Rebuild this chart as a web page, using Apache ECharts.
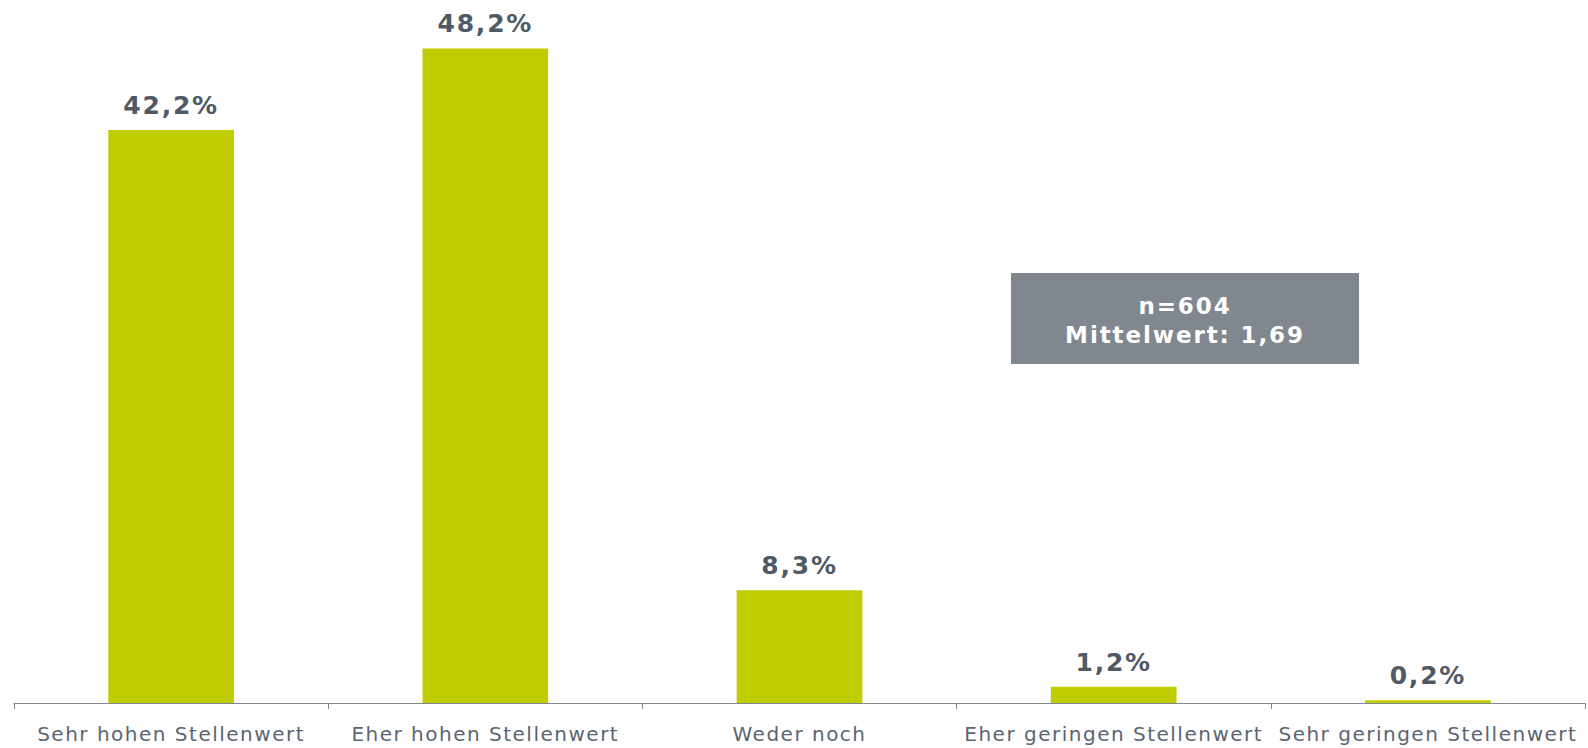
<!DOCTYPE html>
<html><head><meta charset="utf-8">
<script src="https://cdn.jsdelivr.net/npm/echarts@6/dist/echarts.min.js"></script>
<style>
html,body{margin:0;padding:0;background:#fff}
#c{width:1588px;height:748px}
#c text[style*="20px"]{letter-spacing:1.5px}
#c text[style*="25px"]{letter-spacing:1.8px}
#c text[style*="23px"]{letter-spacing:1.9px}
</style>
</head><body><div id="c"></div>
<script>
const categories = ['Sehr hohen Stellenwert','Eher hohen Stellenwert','Weder noch','Eher geringen Stellenwert','Sehr geringen Stellenwert'];
const values = [42.2, 48.2, 8.3, 1.2, 0.2];
const noteLines = ['n=604', 'Mittelwert: 1,69'];
const font = 'DejaVu Sans';
const chart = echarts.init(document.getElementById('c'), null, {renderer: 'svg'});
chart.setOption({
  animation: false,
  grid: {left: 14, right: 3, top: 24, bottom: 45, containLabel: false},
  xAxis: {
    type: 'category', data: categories,
    axisLine: {lineStyle: {color: '#7f8790', width: 1}},
    axisTick: {show: true, length: 6, lineStyle: {color: '#7f8790'}},
    axisLabel: {color: '#5a6571', fontFamily: font, fontSize: 20, margin: 21, interval: 0}
  },
  yAxis: {type: 'value', min: 0, max: 50, show: false, splitLine: {show: false}},
  series: [{
    type: 'bar', data: values, barWidth: '40%',
    itemStyle: {color: '#bfcd00'},
    label: {show: true, position: 'top', distance: 12, color: '#4f5a66', fontFamily: font, fontWeight: 'bold', fontSize: 25,
      formatter: p => p.value.toFixed(1).replace('.', ',') + '%'}
  }],
  graphic: [{
    type: 'group', left: 1011, top: 273,
    children: [
      {type: 'rect', shape: {x: 0, y: 0, width: 348, height: 91}, style: {fill: '#80878f'}},
      {type: 'text', x: 174, y: 47, style: {text: noteLines.join('\n'), fill: '#fff', font: 'bold 23px "DejaVu Sans"', align: 'center', verticalAlign: 'middle', lineHeight: 29}}
    ]
  }]
});
</script></body></html>
